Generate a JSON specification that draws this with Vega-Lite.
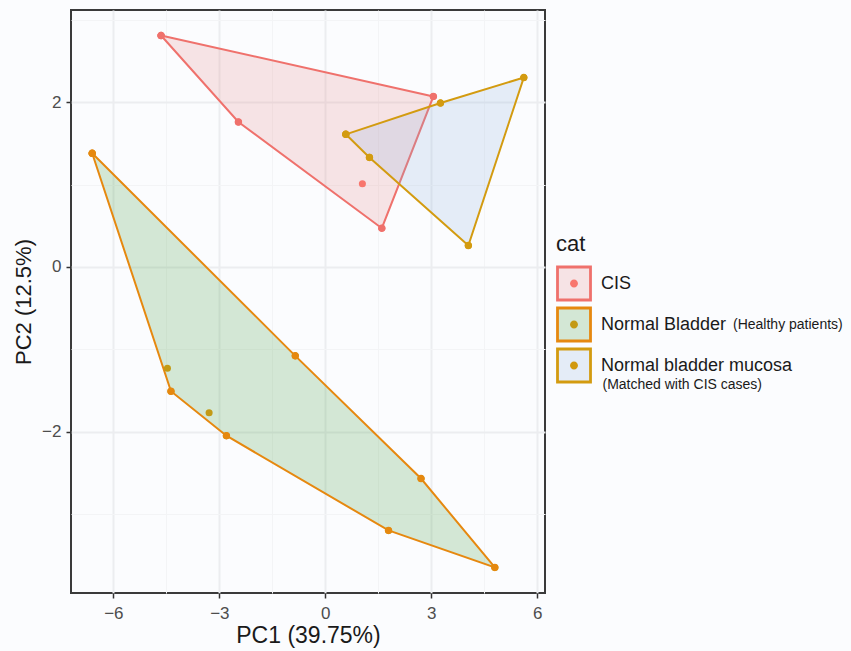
{
  "$schema": "https://vega.github.io/schema/vega-lite/v6.json",
  "width": 474,
  "height": 583,
  "autosize": {"type": "none"},
  "padding": {"left": 71, "top": 10, "right": 306, "bottom": 58},
  "background": "#FBFCFE",
  "config": {
    "font": "Liberation Sans",
    "view": {"stroke": "#3a3a3a", "strokeWidth": 2}
  },
  "datasets": {
    "points": [
      {"PC1": -4.65, "PC2": 2.81, "group": "CIS"},
      {"PC1": 3.06, "PC2": 2.07, "group": "CIS"},
      {"PC1": -2.46, "PC2": 1.76, "group": "CIS"},
      {"PC1": 1.05, "PC2": 1.01, "group": "CIS"},
      {"PC1": 1.6, "PC2": 0.47, "group": "CIS"},
      {"PC1": -6.6, "PC2": 1.38, "group": "Normal Bladder"},
      {"PC1": -4.47, "PC2": -1.23, "group": "Normal Bladder"},
      {"PC1": -4.37, "PC2": -1.51, "group": "Normal Bladder"},
      {"PC1": -3.29, "PC2": -1.77, "group": "Normal Bladder"},
      {"PC1": -2.8, "PC2": -2.05, "group": "Normal Bladder"},
      {"PC1": -0.85, "PC2": -1.08, "group": "Normal Bladder"},
      {"PC1": 2.71, "PC2": -2.57, "group": "Normal Bladder"},
      {"PC1": 1.79, "PC2": -3.2, "group": "Normal Bladder"},
      {"PC1": 4.8, "PC2": -3.65, "group": "Normal Bladder"},
      {"PC1": 5.62, "PC2": 2.3, "group": "Normal bladder mucosa"},
      {"PC1": 3.26, "PC2": 1.99, "group": "Normal bladder mucosa"},
      {"PC1": 0.58, "PC2": 1.61, "group": "Normal bladder mucosa"},
      {"PC1": 1.25, "PC2": 1.33, "group": "Normal bladder mucosa"},
      {"PC1": 4.05, "PC2": 0.26, "group": "Normal bladder mucosa"}
    ],
    "hulls": [
      {"PC1": -4.65, "PC2": 2.81, "cat": "CIS", "ord": 1},
      {"PC1": 3.06, "PC2": 2.07, "cat": "CIS", "ord": 2},
      {"PC1": 1.6, "PC2": 0.47, "cat": "CIS", "ord": 3},
      {"PC1": -2.46, "PC2": 1.76, "cat": "CIS", "ord": 4},
      {"PC1": -4.65, "PC2": 2.81, "cat": "CIS", "ord": 5},
      {"PC1": -6.6, "PC2": 1.38, "cat": "Normal Bladder", "ord": 1},
      {"PC1": -0.85, "PC2": -1.08, "cat": "Normal Bladder", "ord": 2},
      {"PC1": 2.71, "PC2": -2.57, "cat": "Normal Bladder", "ord": 3},
      {"PC1": 4.8, "PC2": -3.65, "cat": "Normal Bladder", "ord": 4},
      {"PC1": 1.79, "PC2": -3.2, "cat": "Normal Bladder", "ord": 5},
      {"PC1": -2.8, "PC2": -2.05, "cat": "Normal Bladder", "ord": 6},
      {"PC1": -4.37, "PC2": -1.51, "cat": "Normal Bladder", "ord": 7},
      {"PC1": -6.6, "PC2": 1.38, "cat": "Normal Bladder", "ord": 8},
      {"PC1": 0.58, "PC2": 1.61, "cat": "Normal bladder mucosa", "ord": 1},
      {"PC1": 3.26, "PC2": 1.99, "cat": "Normal bladder mucosa", "ord": 2},
      {"PC1": 5.62, "PC2": 2.3, "cat": "Normal bladder mucosa", "ord": 3},
      {"PC1": 4.05, "PC2": 0.26, "cat": "Normal bladder mucosa", "ord": 4},
      {"PC1": 1.25, "PC2": 1.33, "cat": "Normal bladder mucosa", "ord": 5},
      {"PC1": 0.58, "PC2": 1.61, "cat": "Normal bladder mucosa", "ord": 6}
    ]
  },
  "encoding": {
    "x": {
      "field": "PC1",
      "type": "quantitative",
      "scale": {"domain": [-7.2, 6.22], "nice": false, "zero": false},
      "axis": {
        "values": [-6, -4.5, -3, -1.5, 0, 1.5, 3, 4.5, 6],
        "format": "d",
        "labelExpr": "datum.value % 3 === 0 ? datum.label : ''",
        "labelOverlap": false,
        "labelFlush": false,
        "title": "PC1 (39.75%)",
        "grid": true,
        "gridColor": {"condition": {"test": "datum.value % 3 === 0", "value": "#ECEDF0"}, "value": "#F3F4F6"},
        "gridWidth": {"condition": {"test": "datum.value % 3 === 0", "value": 2}, "value": 1},
        "tickOpacity": {"condition": {"test": "datum.value % 3 === 0", "value": 1}, "value": 0},
        "domain": false,
        "tickColor": "#333333",
        "tickWidth": 1.5,
        "tickSize": 5,
        "labelFontSize": 17,
        "labelColor": "#4D4D4D",
        "labelPadding": 7,
        "titleFontSize": 23,
        "titleFontWeight": "normal",
        "titleColor": "#1A1A1A",
        "titlePadding": 3
      }
    },
    "y": {
      "field": "PC2",
      "type": "quantitative",
      "scale": {"domain": [-3.96, 3.12], "nice": false, "zero": false},
      "axis": {
        "values": [-3, -2, -1, 0, 1, 2, 3],
        "format": "d",
        "labelExpr": "datum.value % 2 === 0 ? datum.label : ''",
        "labelOverlap": false,
        "labelFlush": false,
        "title": "PC2 (12.5%)",
        "grid": true,
        "gridColor": {"condition": {"test": "datum.value % 2 === 0", "value": "#ECEDF0"}, "value": "#F3F4F6"},
        "gridWidth": {"condition": {"test": "datum.value % 2 === 0", "value": 2}, "value": 1},
        "tickOpacity": {"condition": {"test": "datum.value % 2 === 0", "value": 1}, "value": 0},
        "domain": false,
        "tickColor": "#333333",
        "tickWidth": 1.5,
        "tickSize": 5,
        "labelFontSize": 17,
        "labelColor": "#4D4D4D",
        "labelPadding": 5,
        "titleFontSize": 22,
        "titleFontWeight": "normal",
        "titleColor": "#1A1A1A",
        "titlePadding": 6
      }
    }
  },
  "layer": [
    {
      "data": {"name": "hulls"},
      "mark": {"type": "line", "strokeWidth": 2, "interpolate": "linear"},
      "encoding": {
        "order": {"field": "ord", "type": "quantitative"},
        "stroke": {
          "field": "cat",
          "type": "nominal",
          "scale": {"domain": ["CIS", "Normal Bladder", "Normal bladder mucosa"], "range": ["#EF716C", "#E6880F", "#D39B10"]},
          "legend": {
            "orient": "none", "legendX": 485, "legendY": 223.5,
            "title": "cat", "titleFontSize": 22, "titleFontWeight": "normal", "titleColor": "#1A1A1A", "titlePadding": 10,
            "symbolType": "square", "symbolSize": 1089, "symbolStrokeWidth": 2.8,
            "labelFontSize": 18, "labelColor": "#1A1A1A", "labelOffset": 9, "labelLimit": 400,
            "rowPadding": -20, "padding": 0
          }
        },
        "fill": {
          "field": "cat",
          "type": "nominal",
          "scale": {"domain": ["CIS", "Normal Bladder", "Normal bladder mucosa"], "range": ["rgba(230,130,130,0.2)", "rgba(55,150,50,0.2)", "rgba(140,175,220,0.2)"]},
          "legend": {
            "orient": "none", "legendX": 485, "legendY": 223.5,
            "title": "cat", "titleFontSize": 22, "titleFontWeight": "normal", "titleColor": "#1A1A1A", "titlePadding": 10,
            "symbolType": "square", "symbolSize": 1089, "symbolStrokeWidth": 2.8,
            "labelFontSize": 18, "labelColor": "#1A1A1A", "labelOffset": 9, "labelLimit": 400,
            "rowPadding": -20, "padding": 0
          }
        }
      }
    },
    {
      "data": {"name": "points"},
      "mark": {"type": "point", "filled": true, "size": 50, "opacity": 1},
      "encoding": {
        "color": {
          "field": "group",
          "type": "nominal",
          "scale": {"range": ["#F8766D", "#C39A15", "#D1990F"]},
          "legend": {
            "orient": "none", "legendX": 485, "legendY": 223.5, "zindex": 2,
            "title": "cat", "titleFontSize": 22, "titleFontWeight": "normal", "titleColor": "transparent", "titlePadding": 10,
            "symbolType": "M-1,-1M1,1M0.24,0A0.24,0.24,0,1,1,-0.24,0A0.24,0.24,0,1,1,0.24,0Z",
            "symbolSize": 1089, "symbolStrokeWidth": 2.8, "symbolStrokeColor": "transparent",
            "labelFontSize": 14, "labelColor": "#1A1A1A", "labelOffset": 141, "labelLimit": 400,
            "rowPadding": -20, "padding": 0,
            "labelExpr": "datum.value === 'Normal Bladder' ? '(Healthy patients)' : ''"
          }
        },
        "shape": {
          "datum": "(Matched with CIS cases)",
          "scale": {"range": ["circle"]},
          "legend": {
            "orient": "none", "legendX": 517.5, "legendY": 368, "title": null,
            "symbolSize": 0, "symbolOpacity": 0, "symbolStrokeWidth": 0,
            "labelOffset": 0, "labelFontSize": 14, "labelColor": "#1A1A1A", "labelLimit": 400, "padding": 0
          }
        }
      }
    },
    {
      "data": {"name": "hulls"},
      "mark": {"type": "point", "filled": false, "size": 12, "strokeWidth": 4, "opacity": 1},
      "encoding": {
        "stroke": {"field": "cat", "type": "nominal", "legend": null}
      }
    }
  ]
}
